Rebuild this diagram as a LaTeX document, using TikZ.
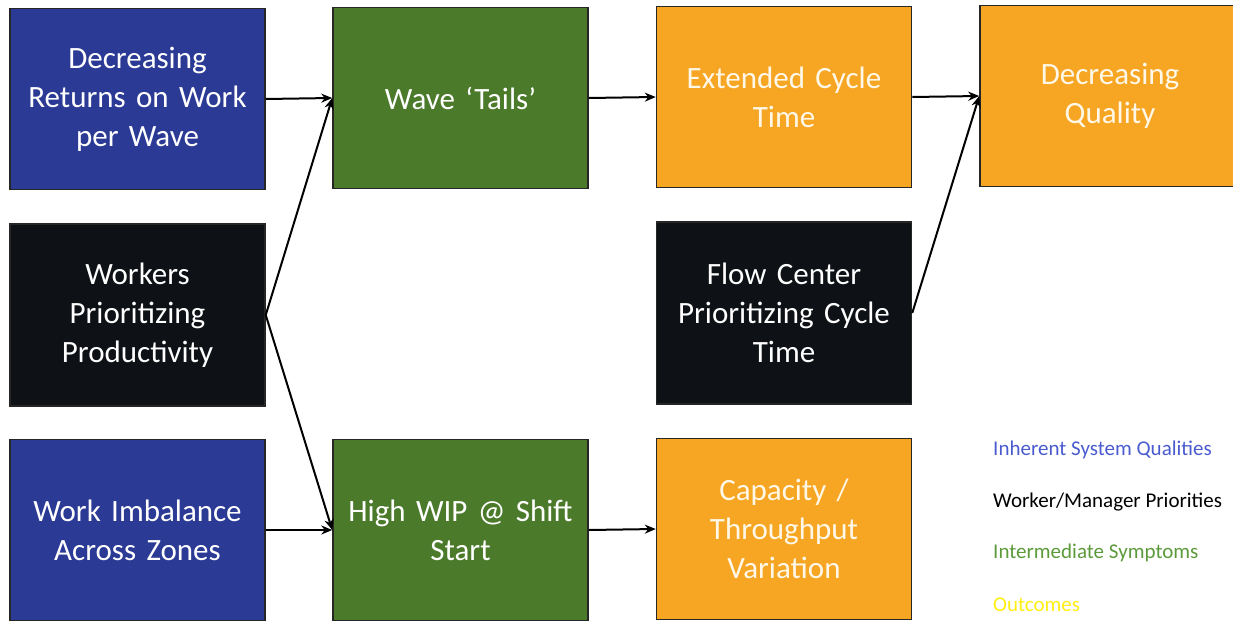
\documentclass[tikz,border=0pt]{standalone}
\usepackage{fontspec}
\setmainfont{Carlito}
\usetikzlibrary{arrows.meta}
\definecolor{cblue}{HTML}{2B3A94}
\definecolor{cgreen}{HTML}{4B7A2B}
\definecolor{corange}{HTML}{F6A623}
\definecolor{cblack}{HTML}{0E1116}
\definecolor{ctext}{HTML}{FFF8E8}
\definecolor{lblue}{HTML}{4A5BD0}
\definecolor{lgreen}{HTML}{5C9A3A}
\definecolor{lyellow}{HTML}{FFEE10}
\tikzset{
  box/.style={draw=black!85, line width=1.5pt, minimum width=255pt, inner sep=2pt,
    align=center, text=white, font=\fontsize{31}{39}\selectfont, text width=250pt},
  bluebox/.style={box, fill=cblue, minimum height=181pt},
  greenbox/.style={box, fill=cgreen, minimum height=181pt},
  orangebox/.style={box, fill=corange, minimum height=181pt, text=ctext},
  blackbox/.style={box, fill=cblack, minimum height=182pt},
  arr/.style={-{Stealth[length=11pt,width=9pt]}, line width=2pt, black},
  legend/.style={anchor=west, font=\fontsize{21}{24}\selectfont, inner sep=0pt}
}
\begin{document}
\begin{tikzpicture}[x=1pt,y=-1pt]
\useasboundingbox (0,0) rectangle (1233,621);
\node[bluebox] (dr) at (137.5,99) {Decreasing\\Returns on Work\\per Wave};
\node[blackbox] (wp) at (137.5,315) {Workers\\Prioritizing\\Productivity};
\node[bluebox] (wi) at (137.5,530) {Work Imbalance\\Across Zones};
\node[greenbox] (wt) at (460.5,98) {Wave ‘Tails’};
\node[greenbox] (hw) at (460.5,530) {High WIP @ Shift\\Start};
\node[orangebox] (ec) at (784,97) {Extended Cycle\\Time};
\node[blackbox] (fc) at (784,313) {Flow Center\\Prioritizing Cycle\\Time};
\node[orangebox] (cv) at (784,529) {Capacity /\\Throughput\\Variation};
\node[orangebox, minimum width=260pt] (dq) at (1110,96) {Decreasing\\Quality};
\draw[arr] (dr.east) -- (wt.west);
\draw[arr] (wp.east) -- (wt.west);
\draw[arr] (wp.east) -- (hw.west);
\draw[arr] (wi.east) -- (hw.west);
\draw[arr] (wt.east) -- (ec.west);
\draw[arr] (ec.east) -- (dq.west);
\draw[arr] (fc.east) -- (dq.west);
\draw[arr] (hw.east) -- (cv.west);
\node[legend, text=lblue] (l1) at (993,450) {Inherent System Qualities};
\node[legend, text=black] (l2) at (993,502) {Worker/Manager Priorities};
\node[legend, text=lgreen] (l3) at (993,553) {Intermediate Symptoms};
\node[legend, text=lyellow] (l4) at (993,605) {Outcomes};
\end{tikzpicture}
\end{document}
